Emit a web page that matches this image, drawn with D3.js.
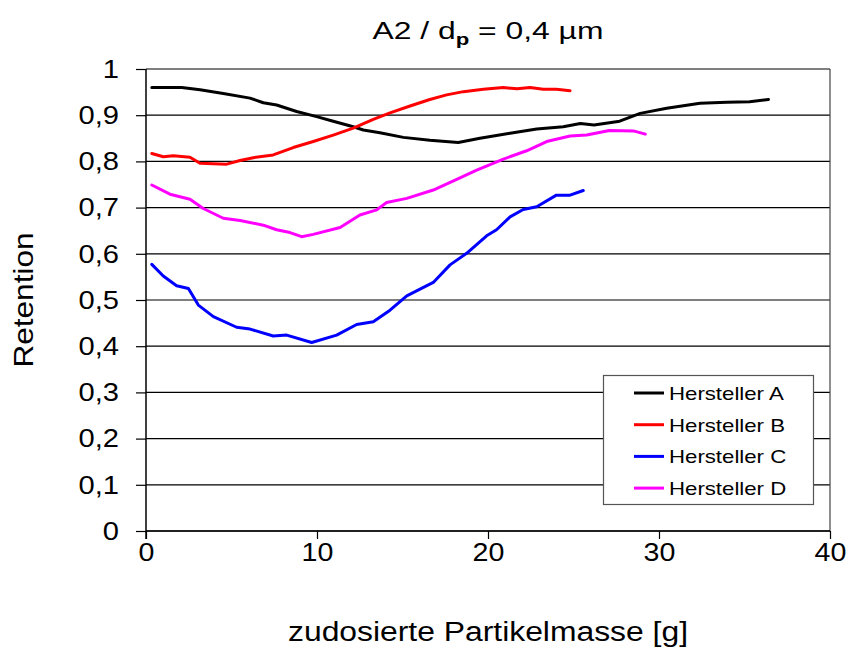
<!DOCTYPE html>
<html>
<head>
<meta charset="utf-8">
<script src="https://cdn.jsdelivr.net/npm/d3@7"></script>
<style>
  body { margin: 0; background: #fff; }
  svg text { font-family: "Liberation Sans", Arial, sans-serif; fill: #000; }
</style>
</head>
<body>
<svg id="chart" width="850" height="648"></svg>
<script>
// values: x = zudosierte Partikelmasse [g], y = Retention
var massA = [0.34, 2.09, 3.16, 4.52, 6.08, 6.86, 7.64, 8.81, 9.98, 10.95, 12.12, 12.71, 13.68, 15.05, 16.6, 18.26, 19.53, 21.29, 22.85, 24.4, 25.4, 26.2, 27.7, 28.9, 30.45, 32.4, 33.96, 35.3, 36.4];
var retA  = [0.960, 0.960, 0.955, 0.947, 0.937, 0.927, 0.922, 0.908, 0.897, 0.887, 0.875, 0.868, 0.862, 0.852, 0.846, 0.841, 0.850, 0.861, 0.870, 0.875, 0.882, 0.879, 0.887, 0.904, 0.915, 0.926, 0.928, 0.929, 0.934];

var massB = [0.34, 1.01, 1.6, 2.57, 3.16, 4.72, 5.5, 6.27, 7.44, 8.61, 9.78, 10.95, 12.12, 13.29, 14.27, 15.44, 16.6, 17.58, 18.56, 19.73, 20.9, 21.7, 22.46, 23.23, 24.0, 24.8];
var retB  = [0.817, 0.810, 0.812, 0.809, 0.796, 0.794, 0.802, 0.808, 0.814, 0.830, 0.843, 0.857, 0.872, 0.891, 0.905, 0.920, 0.934, 0.944, 0.951, 0.956, 0.960, 0.957, 0.960, 0.956, 0.956, 0.953];

var massC = [0.34, 1.01, 1.79, 2.48, 3.06, 3.94, 5.3, 6.08, 7.44, 8.23, 9.69, 11.15, 12.32, 13.29, 14.27, 15.25, 16.8, 17.78, 18.75, 19.92, 20.5, 21.29, 22.06, 22.85, 24.0, 24.8, 25.57];
var retC  = [0.577, 0.552, 0.531, 0.525, 0.489, 0.464, 0.441, 0.437, 0.422, 0.424, 0.408, 0.424, 0.447, 0.453, 0.478, 0.509, 0.538, 0.576, 0.601, 0.639, 0.652, 0.680, 0.696, 0.702, 0.727, 0.727, 0.737];

var massD = [0.34, 1.4, 2.57, 3.35, 4.52, 5.5, 6.86, 7.64, 8.42, 9.1, 9.78, 11.35, 12.51, 13.49, 14.07, 15.25, 16.8, 18.17, 19.34, 20.9, 22.26, 23.43, 24.8, 25.77, 27.1, 28.5, 29.2];
var retD  = [0.749, 0.729, 0.718, 0.698, 0.677, 0.672, 0.662, 0.652, 0.646, 0.637, 0.642, 0.657, 0.684, 0.695, 0.711, 0.720, 0.738, 0.761, 0.781, 0.805, 0.823, 0.843, 0.855, 0.857, 0.867, 0.866, 0.859];

var seriesNames  = ["Hersteller A", "Hersteller B", "Hersteller C", "Hersteller D"];
var seriesColors = ["#000000", "#ff0000", "#0000ff", "#ff00ff"];
var xTicks = [0, 10, 20, 30, 40];
var yTicks = [0, 0.1, 0.2, 0.3, 0.4, 0.5, 0.6, 0.7, 0.8, 0.9, 1];

var series = [
    {name: seriesNames[0], color: seriesColors[0], xs: massA, ys: retA},
    {name: seriesNames[1], color: seriesColors[1], xs: massB, ys: retB},
    {name: seriesNames[2], color: seriesColors[2], xs: massC, ys: retC},
    {name: seriesNames[3], color: seriesColors[3], xs: massD, ys: retD}
];

var svg = d3.select("#chart");
// plot box (note: "top" is reserved on window, so prefixed names)
var plotL = 146, plotR = 830, plotT = 69, plotB = 531;

var x = d3.scaleLinear().domain([0, 40]).range([plotL, plotR]);
var y = d3.scaleLinear().domain([0, 1]).range([plotB, plotT]);

const fmt = (d) => d === 0 || d === 1 ? String(d) : d3.format(".1f")(d).replace(".", ",");

// the original text is rendered a bit wider than Liberation Sans, stretch it
function widen(sel, k) {
    sel.each(function () {
        var w = this.getComputedTextLength();
        d3.select(this).attr("textLength", w * k).attr("lengthAdjust", "spacingAndGlyphs");
    });
}

// horizontal grid lines
svg.append("g")
    .selectAll("line")
    .data(yTicks)
    .join("line")
    .attr("x1", plotL).attr("x2", plotR)
    .attr("y1", (d) => y(d)).attr("y2", (d) => y(d))
    .attr("stroke", "#000").attr("stroke-width", 1.2);

// right border of the plot area
svg.append("line")
    .attr("x1", plotR).attr("x2", plotR)
    .attr("y1", plotT).attr("y2", plotB)
    .attr("stroke", "#444").attr("stroke-width", 1.2);

// axes
var xAxis = d3.axisBottom(x).tickValues(xTicks).tickSize(8).tickPadding(4).tickFormat(d3.format("d"));
var gX = svg.append("g").attr("transform", `translate(0,${plotB})`).call(xAxis);

var yAxis = d3.axisLeft(y).tickValues(yTicks).tickSize(10).tickPadding(17).tickFormat(fmt);
var gY = svg.append("g").attr("transform", `translate(${plotL},0)`).call(yAxis);

[gX, gY].forEach(function (g) {
    g.select(".domain").attr("stroke", "#000").attr("stroke-width", 1.5);
    g.selectAll(".tick line").attr("stroke", "#000").attr("stroke-width", 1.2);
    g.selectAll(".tick text")
        .attr("font-family", "Liberation Sans, Arial, sans-serif")
        .attr("font-size", 26).attr("fill", "#000");
});
gX.select(".domain").attr("d", `M${plotL},0H${plotR}`);
gY.select(".domain").attr("d", `M0,${plotB + 8}V${plotT}`);
widen(gX.selectAll(".tick text"), 1.1);
widen(gY.selectAll(".tick text"), 1.12);

// series lines
var line = d3.line()
    .x((d) => x(d[0]))
    .y((d) => y(d[1]));

svg.append("g")
    .selectAll("path")
    .data(series)
    .join("path")
    .attr("d", (s) => line(d3.zip(s.xs, s.ys)))
    .attr("fill", "none")
    .attr("stroke", (s) => s.color)
    .attr("stroke-width", 3)
    .attr("stroke-linejoin", "round")
    .attr("stroke-linecap", "round");

// title with subscript
var title = svg.append("text")
    .attr("x", 488).attr("y", 39)
    .attr("text-anchor", "middle")
    .attr("font-size", 23);
title.append("tspan").text("A2 / d");
title.append("tspan").text("p").attr("font-size", 16).attr("font-weight", "bold").attr("dy", 6);
title.append("tspan").text(" = 0,4 µm").attr("dy", -6);
title.attr("textLength", 231).attr("lengthAdjust", "spacingAndGlyphs");

// axis titles
svg.append("text")
    .attr("x", (plotL + plotR) / 2).attr("y", 641)
    .attr("text-anchor", "middle")
    .attr("font-size", 27)
    .attr("textLength", 400).attr("lengthAdjust", "spacingAndGlyphs")
    .text("zudosierte Partikelmasse [g]");

svg.append("text")
    .attr("transform", "translate(33,300) rotate(-90)")
    .attr("text-anchor", "middle")
    .attr("font-size", 28)
    .attr("textLength", 135).attr("lengthAdjust", "spacingAndGlyphs")
    .text("Retention");

// legend
var legend = svg.append("g");
legend.append("rect")
    .attr("x", 603.5).attr("y", 375.5)
    .attr("width", 210).attr("height", 129)
    .attr("fill", "#fff").attr("stroke", "#555").attr("stroke-width", 1.2);

var rows = legend.selectAll("g.row")
    .data(series)
    .join("g")
    .attr("class", "row")
    .attr("transform", (s, i) => `translate(0,${393 + i * 31.7})`);

rows.append("line")
    .attr("x1", 634).attr("x2", 664)
    .attr("stroke", (s) => s.color).attr("stroke-width", 3);

rows.append("text")
    .attr("x", 669).attr("y", 7)
    .attr("font-size", 18.5)
    .text((s) => s.name);
widen(rows.selectAll("text"), 1.2);
</script>
</body>
</html>
